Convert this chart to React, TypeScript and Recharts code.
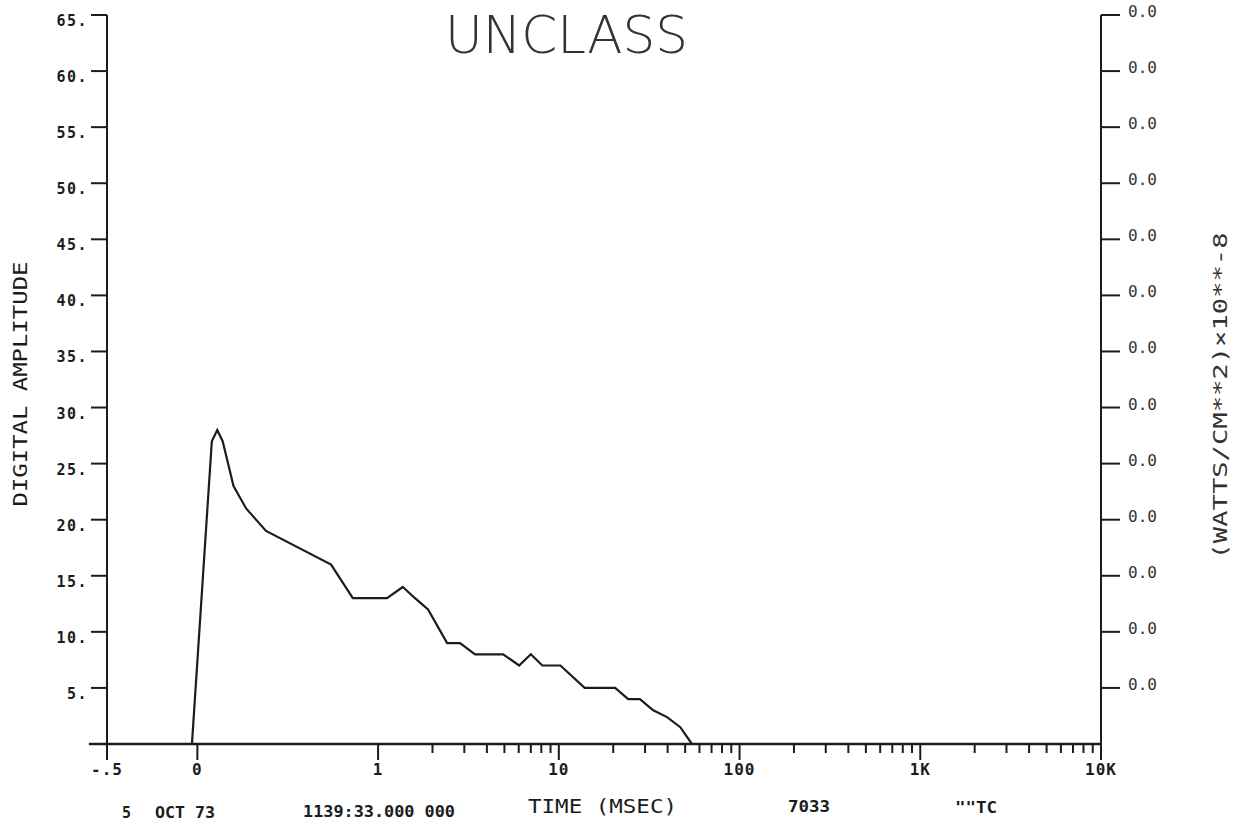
import React from 'react';
import { LineChart, Line, XAxis, YAxis, ReferenceLine } from 'recharts';

// trace: time in msec, digital amplitude
const timeMs = [-0.03, 0.08, 0.11, 0.14, 0.2, 0.27, 0.38, 0.74, 0.86, 1.0, 1.12, 1.37, 1.6, 1.89, 2.41, 2.84, 3.44, 4.92, 6.03, 7.0, 8.1, 10.2, 13.9, 20.5, 24.2, 28.1, 33.3, 39.7, 47, 54.5];
const amplitude = [0, 27, 28, 27, 23, 21, 19, 16, 13, 13, 13, 14, 13, 12, 9, 9, 8, 8, 7, 8, 7, 7, 5, 5, 4, 4, 3, 2.4, 1.5, 0];

// x axis: linear from -.5 to 1, then log decades up to 10K
const xMajorTicks = [-0.5, 0, 1, 10, 100, 1000, 10000];
const xMajorLabels = ['-.5', '0', '1', '10', '100', '1K', '10K'];
const xMinorSteps = [2, 3, 4, 5, 6, 7, 8, 9];
const xDecades = [1, 10, 100, 1000];

const leftTicks = [5, 10, 15, 20, 25, 30, 35, 40, 45, 50, 55, 60, 65];
const leftTickLabels = ['5.', '10.', '15.', '20.', '25.', '30.', '35.', '40.', '45.', '50.', '55.', '60.', '65.'];
const rightTickLabels = ['0.0', '0.0', '0.0', '0.0', '0.0', '0.0', '0.0', '0.0', '0.0', '0.0', '0.0', '0.0', '0.0'];

const toAxis = (t: number) => (t <= 1 ? t : 1 + Math.log10(t));

const data = timeMs.map((t, i) => ({ u: toAxis(t), amp: amplitude[i] }));

const majorPos = xMajorTicks.map(toAxis);
const minorPos = xDecades.flatMap(d => xMinorSteps.map(k => toAxis(d * k)));
const allXTicks = [...majorPos, ...minorPos].sort((a, b) => a - b);

const MONO = "'DejaVu Sans Mono', monospace";
const INK = '#1c1c1c';

const XTick = (props: any) => {
  const { x, y, payload } = props;
  const idx = majorPos.findIndex(p => Math.abs(p - payload.value) < 1e-6);
  if (idx < 0) {
    return <line x1={x} x2={x} y1={y} y2={y + 9} stroke={INK} strokeWidth={2} />;
  }
  return (
    <g>
      <line x1={x} x2={x} y1={y} y2={y + 16} stroke={INK} strokeWidth={2} />
      <text x={x} y={y + 31} textAnchor="middle" fontFamily={MONO} fontSize={16} fontWeight={700} letterSpacing={1} fill={INK}>
        {xMajorLabels[idx]}
      </text>
    </g>
  );
};

const LeftTick = (props: any) => {
  const { x, y, payload } = props;
  const idx = leftTicks.indexOf(payload.value);
  return (
    <g>
      <line x1={x - 16} x2={x} y1={y} y2={y} stroke={INK} strokeWidth={2} />
      <text x={x - 19} y={y + 11} textAnchor="end" fontFamily={MONO} fontSize={15} fontWeight={700} letterSpacing={1.5} fill={INK}>
        {leftTickLabels[idx]}
      </text>
    </g>
  );
};

const RightTick = (props: any) => {
  const { x, y, payload } = props;
  const idx = leftTicks.indexOf(payload.value);
  return (
    <g>
      <line x1={x} x2={x + 19} y1={y} y2={y} stroke={INK} strokeWidth={2} />
      <text x={x + 27} y={y + 2} textAnchor="start" fontFamily={MONO} fontSize={16} fill="#333">
        {rightTickLabels[idx]}
      </text>
    </g>
  );
};

export default function App() {
  return (
    <div style={{ position: 'absolute', left: 0, top: 0, width: 1235, height: 824, background: '#fff' }}>
      <LineChart width={1235} height={824} data={data} margin={{ top: 15, right: 54, left: 47, bottom: 40 }}>
        <XAxis
          dataKey="u"
          type="number"
          domain={[-0.5, 5]}
          ticks={allXTicks}
          interval={0}
          tick={<XTick />}
          tickLine={false}
          axisLine={false}
          tickSize={0}
          tickMargin={0}
          height={40}
          allowDataOverflow
        />
        <YAxis
          yAxisId="left"
          type="number"
          domain={[0, 65]}
          ticks={leftTicks}
          interval={0}
          tick={<LeftTick />}
          tickLine={false}
          tickSize={0}
          tickMargin={0}
          axisLine={{ stroke: INK, strokeWidth: 2 }}
          width={60}
          allowDataOverflow
        />
        <YAxis
          yAxisId="right"
          orientation="right"
          type="number"
          domain={[0, 65]}
          ticks={leftTicks}
          interval={0}
          tick={<RightTick />}
          tickLine={false}
          tickSize={0}
          tickMargin={0}
          axisLine={{ stroke: INK, strokeWidth: 2 }}
          width={80}
          allowDataOverflow
        />
        <ReferenceLine
          yAxisId="left"
          segment={[{ x: -0.6, y: 0 }, { x: 5, y: 0 }]}
          stroke={INK}
          strokeWidth={2.5}
          ifOverflow="visible"
        />
        <Line
          yAxisId="right"
          dataKey="amp"
          type="linear"
          stroke="none"
          dot={false}
          legendType="none"
          isAnimationActive={false}
        />
        <Line
          yAxisId="left"
          dataKey="amp"
          type="linear"
          stroke={INK}
          strokeWidth={2.2}
          dot={false}
          isAnimationActive={false}
        />
      </LineChart>
      <svg width={1235} height={824} style={{ position: 'absolute', left: 0, top: 0, pointerEvents: 'none' }}>
        <text x={445} y={53} fontFamily="'DejaVu Sans', sans-serif" fontWeight={200} fontSize={52} textLength={243} lengthAdjust="spacingAndGlyphs" fill="#333">
          UNCLASS
        </text>
        <text transform="translate(27,384) rotate(-90)" textAnchor="middle" fontFamily={MONO} fontSize={20} textLength={245} lengthAdjust="spacingAndGlyphs" fill={INK}>
          DIGITAL AMPLITUDE
        </text>
        <text transform="translate(1227,396) rotate(-90)" textAnchor="middle" fontFamily={MONO} fontSize={19} textLength={327} lengthAdjust="spacingAndGlyphs" fill="#333">
          (WATTS/CM**2)×10**-8
        </text>
        <g fontFamily={MONO} fontWeight={700} fill={INK} fontSize={15}>
          <text x={122} y={818}>5</text>
          <text x={155} y={818} textLength={60} lengthAdjust="spacingAndGlyphs">OCT 73</text>
          <text x={303} y={817} textLength={152} lengthAdjust="spacingAndGlyphs">1139:33.000 000</text>
          <text x={788} y={812} textLength={42} lengthAdjust="spacingAndGlyphs">7033</text>
          <text x={955} y={813} textLength={42} lengthAdjust="spacingAndGlyphs">""TC</text>
        </g>
        <text x={528} y={813} fontFamily={MONO} fontSize={20} textLength={149} lengthAdjust="spacingAndGlyphs" fill={INK}>
          TIME (MSEC)
        </text>
      </svg>
    </div>
  );
}
